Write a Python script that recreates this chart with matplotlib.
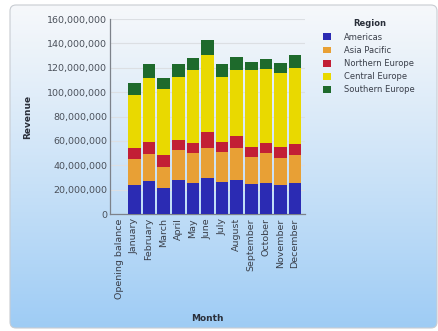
import numpy as np
import matplotlib.pyplot as plt
from matplotlib.patches import FancyBboxPatch
from matplotlib.ticker import FuncFormatter, MultipleLocator

months = ["Opening balance", "January", "February", "March", "April", "May",
          "June", "July", "August", "September", "October", "November", "December"]

# Revenue per region (stack segments), in currency units
americas = [0, 23.8e6, 27.2e6, 21.0e6, 27.9e6, 25.2e6, 29.3e6, 26.5e6, 27.9e6, 24.6e6, 25.2e6, 23.8e6, 25.2e6]
asia_pacific = [0, 21.0e6, 22.4e6, 17.8e6, 24.6e6, 24.6e6, 24.6e6, 24.6e6, 26.0e6, 22.4e6, 25.1e6, 22.4e6, 23.2e6]
northern_europe = [0, 9.3e6, 9.7e6, 10.0e6, 8.2e6, 8.2e6, 13.6e6, 8.2e6, 10.1e6, 8.2e6, 8.2e6, 9.0e6, 9.0e6]
central_europe = [0, 43.7e6, 52.2e6, 53.6e6, 51.9e6, 60.0e6, 62.9e6, 53.3e6, 54.0e6, 62.8e6, 60.2e6, 60.2e6, 62.1e6]
southern_europe = [0, 9.3e6, 11.6e6, 8.9e6, 10.4e6, 9.7e6, 12.3e6, 10.4e6, 11.0e6, 7.0e6, 8.1e6, 8.2e6, 10.9e6]

series = [
    ("Americas", americas, "#2b2bb3"),
    ("Asia Pacific", asia_pacific, "#e8a035"),
    ("Northern Europe", northern_europe, "#c21f35"),
    ("Central Europe", central_europe, "#e9d900"),
    ("Southern Europe", southern_europe, "#1e6a2c"),
]

W, H = 439, 331
fig = plt.figure(figsize=(W / 100, H / 100), dpi=100)
fig.patch.set_facecolor("white")

# Card background with a vertical white-to-blue gradient
bg = fig.add_axes([0, 0, 1, 1], zorder=-10)
bg.set_xlim(0, W)
bg.set_ylim(H, 0)
bg.axis("off")
grad = np.linspace(0, 1, 256).reshape(-1, 1)
top = np.array([0.965, 0.972, 0.982])
bottom = np.array([0.62, 0.80, 0.96])
img = top + (bottom - top) * grad[..., None] ** 1.1
card = FancyBboxPatch((10, 5), W - 12, H - 8, boxstyle="round,pad=0,rounding_size=6",
                      facecolor="none", edgecolor="#c8ccd2", linewidth=0.8)
bg.add_patch(card)
im = bg.imshow(img, extent=(10, W - 2, H - 3, 5), aspect="auto")
im.set_clip_path(card)

ax = fig.add_axes([110 / W, 1 - 214 / H, (305 - 110) / W, (214 - 19) / H])
ax.set_facecolor("none")

x = np.arange(len(months))
base = np.zeros(len(months))
for name, vals, color in series:
    ax.bar(x, vals, width=0.86, bottom=base, color=color, label=name,
           edgecolor="none", zorder=3)
    base += np.array(vals)

ax.set_xlim(-0.68, len(months) - 1 + 0.68)
ax.set_ylim(0, 160e6)
ax.yaxis.set_major_locator(MultipleLocator(20e6))
ax.yaxis.set_major_formatter(FuncFormatter(lambda v, p: f"{int(v):,}"))
ax.grid(axis="y", color="#dcdfe3", linewidth=0.8, zorder=0)

ax.set_xticks(x)
ax.set_xticklabels(months, rotation=90, fontsize=6.8, color="#3a3f4a")
ax.tick_params(axis="y", labelsize=6.8, labelcolor="#4a505a", length=0, pad=2)
ax.tick_params(axis="x", length=0, pad=3)

for s in ("top", "right"):
    ax.spines[s].set_visible(False)
for s in ("left", "bottom"):
    ax.spines[s].set_color("#7d828a")
    ax.spines[s].set_linewidth(0.9)

ax.set_ylabel("Revenue", fontsize=6.5, fontweight="bold", color="#2a2f3a")
ax.yaxis.set_label_coords(-78 / 195, 0.5)
ax.set_xlabel("Month", fontsize=6.5, fontweight="bold", color="#2a2f3a")
ax.xaxis.set_label_coords(0.5, -100 / 195)

leg = fig.legend(loc="upper left", bbox_to_anchor=(316 / W, 1 - 12 / H),
                 frameon=False, fontsize=6, title="Region",
                 title_fontproperties={"size": 6, "weight": "bold"},
                 handlelength=0.9, handleheight=0.9, handletextpad=1.6,
                 labelspacing=0.5, labelcolor="#3a3f4a")
leg.get_title().set_color("#2a2f3a")

fig.savefig("out.png", dpi=100)
